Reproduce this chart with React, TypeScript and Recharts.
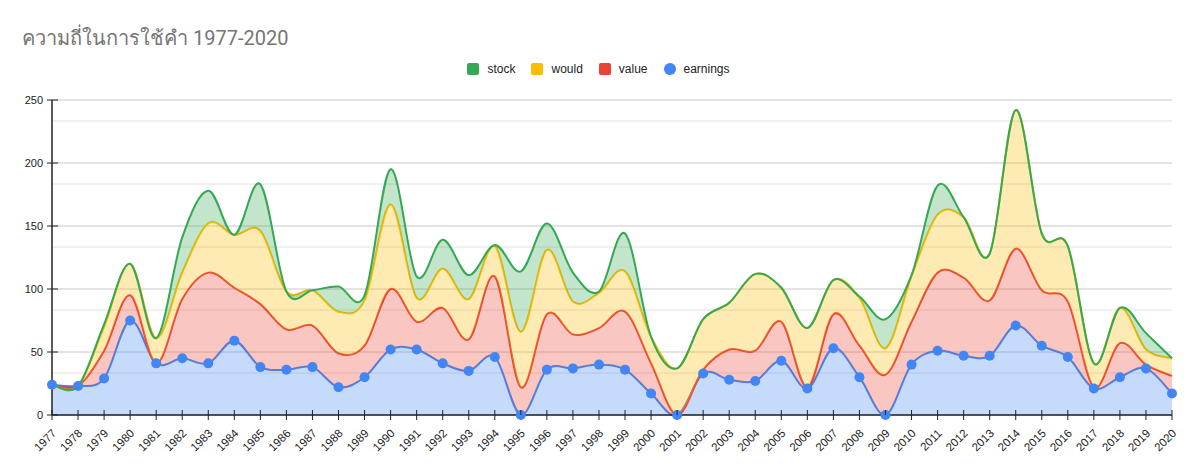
import React from 'react';
import { ComposedChart, Area, Line, XAxis, YAxis, CartesianGrid } from 'recharts';

const title = 'ความถี่ในการใช้คำ 1977-2020';

const years = [
  1977, 1978, 1979, 1980, 1981, 1982, 1983, 1984, 1985, 1986, 1987,
  1988, 1989, 1990, 1991, 1992, 1993, 1994, 1995, 1996, 1997, 1998,
  1999, 2000, 2001, 2002, 2003, 2004, 2005, 2006, 2007, 2008, 2009,
  2010, 2011, 2012, 2013, 2014, 2015, 2016, 2017, 2018, 2019, 2020,
];

const earnings = [
  24, 23, 29, 75, 41, 45, 41, 59, 38, 36, 38,
  22, 30, 52, 52, 41, 35, 46, 0, 36, 37, 40,
  36, 17, 0, 33, 28, 27, 43, 21, 53, 30, 0,
  40, 51, 47, 47, 71, 55, 46, 21, 30, 37, 17,
];

const value = [
  0, 0, 22, 20, 0, 47, 72, 42, 50, 32, 33,
  27, 25, 48, 22, 44, 25, 64, 22, 44, 27, 29,
  46, 24, 0, 3, 24, 24, 31, 1, 27, 25, 32,
  34, 62, 62, 44, 61, 44, 44, 1, 27, 3, 14,
];

const would = [
  0, 0, 19, 25, 20, 21, 39, 42, 58, 30, 28,
  33, 36, 67, 19, 31, 32, 24, 44, 51, 26, 28,
  32, 21, 37, 40, 37, 61, 27, 47, 27, 38, 21,
  36, 46, 48, 37, 110, 45, 44, 19, 28, 12, 14,
];

const stock = [
  0, 0, 2, 0, 0, 28, 26, 0, 37, 0, 0,
  20, 4, 28, 17, 23, 19, 1, 48, 21, 23, 1,
  30, 0, 0, 0, 0, 0, 0, 0, 0, 1, 23,
  1, 23, 0, 0, 0, 0, 0, 0, 0, 13, 0,
];

const yTicks = [0, 50, 100, 150, 200, 250];

const legendItems = [
  { key: 'stock', color: '#34a853', shape: 'square' },
  { key: 'would', color: '#fbbc04', shape: 'square' },
  { key: 'value', color: '#ea4335', shape: 'square' },
  { key: 'earnings', color: '#4285f4', shape: 'circle' },
];

const colorOf = (k: string) => legendItems.find((l) => l.key === k)!.color;

const data = years.map((y, i) => ({
  year: String(y),
  earnings: earnings[i],
  value: value[i],
  would: would[i],
  stock: stock[i],
}));

const minorTicks: number[] = [];
for (let i = 0; i < yTicks.length - 1; i++) {
  const a = yTicks[i];
  const b = yTicks[i + 1];
  minorTicks.push(a + (b - a) / 3, a + (2 * (b - a)) / 3);
}

// Catmull-Rom style smoothing (similar to Google Charts "function" curve)
const smoothCurve = (context: any) => {
  let line: number = NaN;
  let pts: number[][] = [];
  const k = 1 / 6;
  return {
    areaStart() {
      line = 0;
    },
    areaEnd() {
      line = NaN;
    },
    lineStart() {
      pts = [];
    },
    lineEnd() {
      const n = pts.length;
      if (n > 0) {
        if (line) context.lineTo(pts[0][0], pts[0][1]);
        else context.moveTo(pts[0][0], pts[0][1]);
        if (n === 2) {
          context.lineTo(pts[1][0], pts[1][1]);
        } else if (n > 2) {
          for (let i = 0; i < n - 1; i++) {
            const p0 = pts[Math.max(i - 1, 0)];
            const p1 = pts[i];
            const p2 = pts[i + 1];
            const p3 = pts[Math.min(i + 2, n - 1)];
            context.bezierCurveTo(
              p1[0] + k * (p2[0] - p0[0]),
              p1[1] + k * (p2[1] - p0[1]),
              p2[0] - k * (p3[0] - p1[0]),
              p2[1] - k * (p3[1] - p1[1]),
              p2[0],
              p2[1]
            );
          }
        }
      }
      if (line || (line !== 0 && n === 1)) context.closePath();
      line = 1 - line;
    },
    point(x: number, y: number) {
      pts.push([+x, +y]);
    },
  };
};

const axisFont = 'Arial, "Liberation Sans", sans-serif';

const XTick = (props: any) => {
  const { x, y, payload } = props;
  const ax = x + 5;
  const ay = y + 12;
  return (
    <g>
      <line x1={x} x2={x} y1={y - 12} y2={y - 7} stroke="#222" strokeWidth={1} />
      <text
        x={ax}
        y={ay}
        transform={`rotate(-45 ${ax} ${ay})`}
        textAnchor="end"
        fontSize={11.5}
        fontFamily={axisFont}
        fill="#222"
      >
        {payload.value}
      </text>
    </g>
  );
};

const YTick = (props: any) => {
  const { x, y, payload } = props;
  return (
    <g>
      <line x1={x + 9} x2={x + 15} y1={y} y2={y} stroke="#222" strokeWidth={1} />
      <text
        x={x}
        y={y}
        dy={4}
        textAnchor="end"
        fontSize={11}
        fontFamily={axisFont}
        fill="#222"
      >
        {payload.value}
      </text>
    </g>
  );
};

export default function App() {
  return (
    <div
      style={{
        position: 'absolute',
        left: 0,
        top: 0,
        width: 1197,
        height: 476,
        background: '#fff',
      }}
    >
      <div
        style={{
          position: 'absolute',
          left: 22,
          top: 22,
          fontSize: 20,
          color: '#757575',
          fontFamily: 'Roboto, Arial, sans-serif',
          whiteSpace: 'nowrap',
        }}
      >
        {title}
      </div>
      <div
        style={{
          position: 'absolute',
          left: 0,
          top: 62,
          width: 1197,
          display: 'flex',
          justifyContent: 'center',
          alignItems: 'center',
          fontFamily: axisFont,
          fontSize: 12,
          color: '#222',
        }}
      >
        {legendItems.map((it) => (
          <div key={it.key} style={{ display: 'flex', alignItems: 'center', margin: '0 8px' }}>
            <span
              style={{
                display: 'inline-block',
                width: 12,
                height: 12,
                borderRadius: it.shape === 'circle' ? 6 : 2,
                background: it.color,
                marginRight: 8,
              }}
            />
            <span>{it.key}</span>
          </div>
        ))}
      </div>
      <div style={{ position: 'absolute', left: 0, top: 0 }}>
        <ComposedChart
          width={1197}
          height={476}
          data={data}
          margin={{ top: 100, right: 25, bottom: 11, left: 0 }}
        >
          <CartesianGrid
            vertical={false}
            horizontalValues={minorTicks}
            stroke="#e2e2e2"
            strokeWidth={1}
          />
          <CartesianGrid
            vertical={false}
            horizontalValues={yTicks}
            stroke="#c8c8c8"
            strokeWidth={1}
          />
          <XAxis
            dataKey="year"
            interval={0}
            height={50}
            tickSize={5}
            tickMargin={2}
            tickLine={{ stroke: '#222' }}
            axisLine={{ stroke: '#222', strokeWidth: 1.5 }}
            tick={<XTick />}
          />
          <YAxis
            width={52}
            domain={[0, 250]}
            ticks={yTicks}
            tickSize={5}
            tickMargin={4}
            tickLine={{ stroke: '#222' }}
            axisLine={{ stroke: '#222', strokeWidth: 1.5 }}
            tick={<YTick />}
          />
          <Area
            dataKey="earnings"
            stackId="s"
            type={smoothCurve as any}
            stroke={colorOf('earnings')}
            strokeWidth={2}
            fill={colorOf('earnings')}
            fillOpacity={0.3}
            dot={false}
            activeDot={false}
            isAnimationActive={false}
          />
          <Area
            dataKey="value"
            stackId="s"
            type={smoothCurve as any}
            stroke={colorOf('value')}
            strokeWidth={2}
            fill={colorOf('value')}
            fillOpacity={0.3}
            dot={false}
            activeDot={false}
            isAnimationActive={false}
          />
          <Area
            dataKey="would"
            stackId="s"
            type={smoothCurve as any}
            stroke={colorOf('would')}
            strokeWidth={2}
            fill={colorOf('would')}
            fillOpacity={0.3}
            dot={false}
            activeDot={false}
            isAnimationActive={false}
          />
          <Area
            dataKey="stock"
            stackId="s"
            type={smoothCurve as any}
            stroke={colorOf('stock')}
            strokeWidth={2}
            fill={colorOf('stock')}
            fillOpacity={0.3}
            dot={false}
            activeDot={false}
            isAnimationActive={false}
          />
          <Line
            dataKey="earnings"
            stroke="none"
            dot={{ r: 5, fill: colorOf('earnings'), stroke: 'none' }}
            activeDot={false}
            legendType="none"
            isAnimationActive={false}
          />
        </ComposedChart>
      </div>
    </div>
  );
}
